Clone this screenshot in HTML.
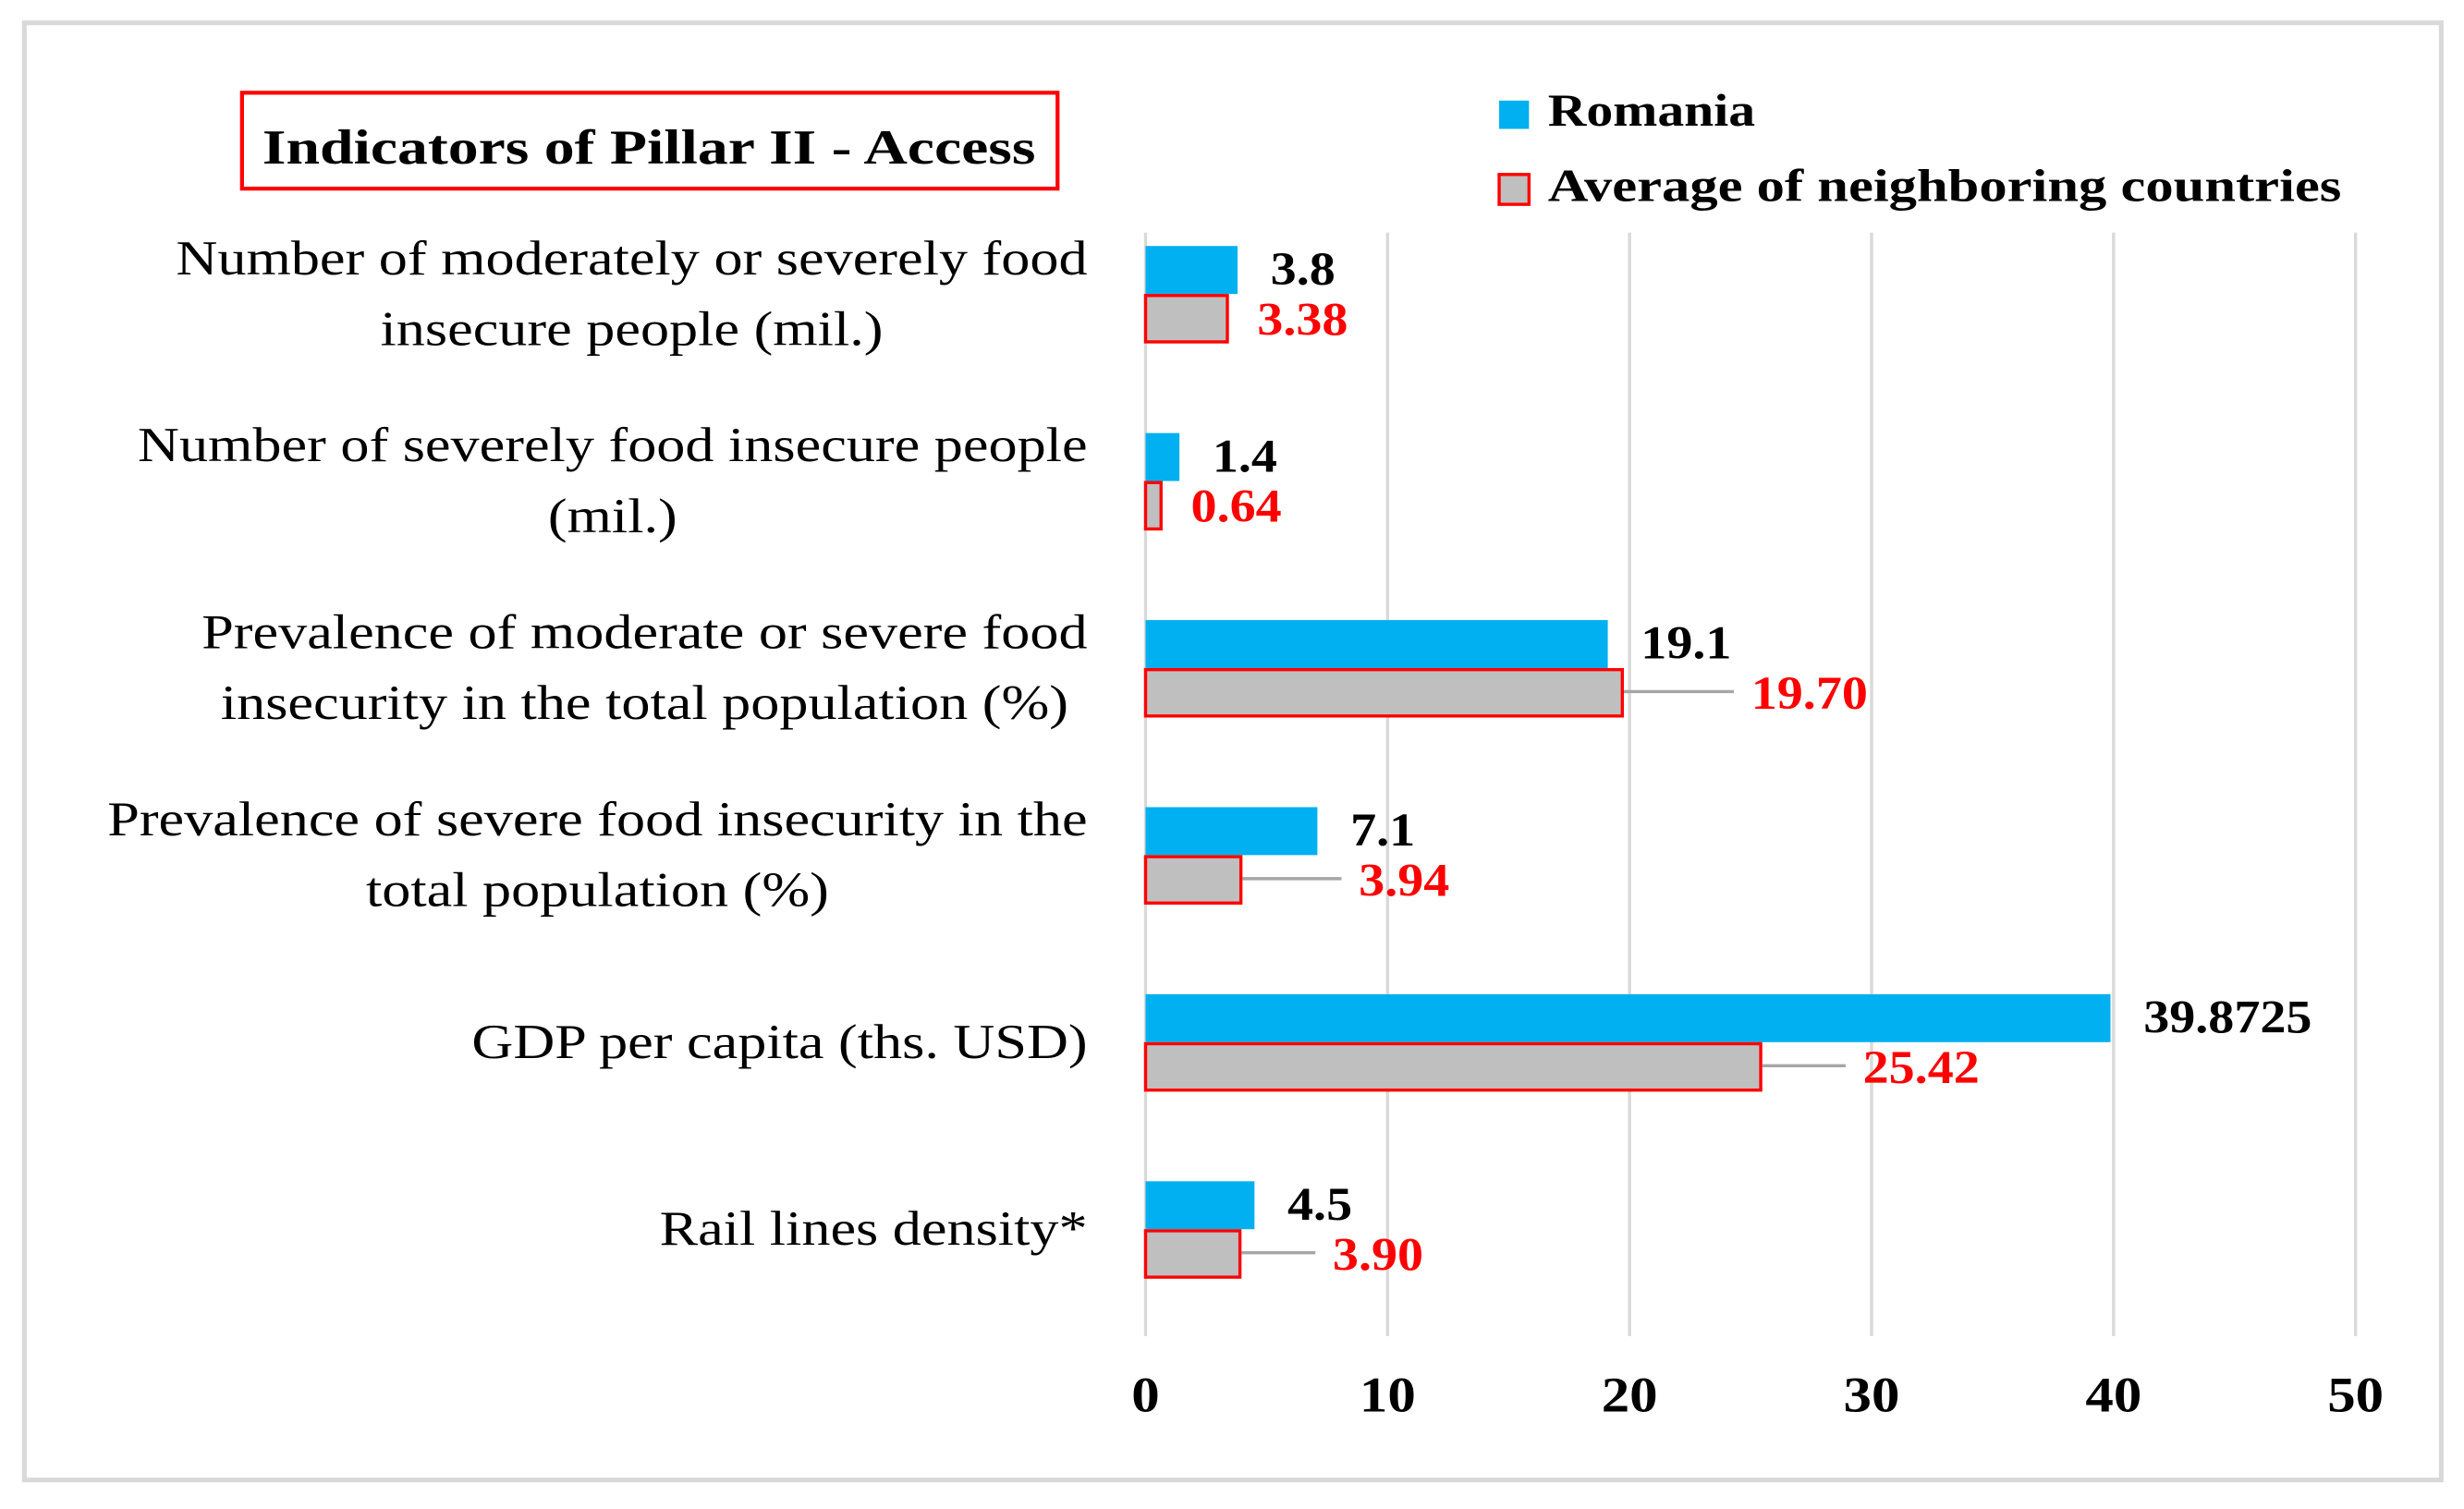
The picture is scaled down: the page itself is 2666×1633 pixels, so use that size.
<!DOCTYPE html>
<html><head><meta charset="utf-8"><style>
html,body{margin:0;padding:0;background:#fff;}
svg{display:block;}
text{font-family:"Liberation Serif",serif;}
</style></head><body>
<svg id="chart" width="2666" height="1633" viewBox="0 0 1568 960" preserveAspectRatio="none" xmlns="http://www.w3.org/2000/svg">
<rect x="15.5" y="14.5" width="1538" height="927" fill="#fff" stroke="#d9d9d9" stroke-width="3"/>
<rect x="154" y="59" width="519" height="61" fill="none" stroke="#ff0000" stroke-width="2.5"/>
<text x="413" y="104" text-anchor="middle" font-size="31" font-weight="bold" textLength="492" lengthAdjust="spacingAndGlyphs">Indicators of Pillar II - Access</text>
<g>
<rect x="954" y="64" width="19" height="18" fill="#00b0f0"/>
<text x="985" y="80" font-size="29" font-weight="bold" textLength="132" lengthAdjust="spacingAndGlyphs">Romania</text>
<rect x="954" y="111" width="19" height="19" fill="#bfbfbf" stroke="#ff0000" stroke-width="2"/>
<text x="985" y="128" font-size="29" font-weight="bold" textLength="505" lengthAdjust="spacingAndGlyphs">Average of neighboring countries</text>
</g>
<g id="grid"></g><g id="bars"></g><g id="labels"></g>
</svg>
<script>
const categories = [
 ["Number of moderately or severely food","insecure people (mil.)"],
 ["Number of severely food insecure people","(mil.)"],
 ["Prevalence of moderate or severe food","insecurity in the total population (%)"],
 ["Prevalence of severe food insecurity in the","total population (%)"],
 ["GDP per capita (ths. USD)"],
 ["Rail lines density*"]
];
const romania = [3.8, 1.4, 19.1, 7.1, 39.8725, 4.5];
const average = [3.38, 0.64, 19.70, 3.94, 25.42, 3.90];
const romaniaText = ["3.8","1.4","19.1","7.1","39.8725","4.5"];
const averageText = ["3.38","0.64","19.70","3.94","25.42","3.90"];
const ticks = [0,10,20,30,40,50];
const leaderLen = [0,0,63,56,46,40];

const NS="http://www.w3.org/2000/svg";
const x0=729, x1=1499, xMax=50;
const x = v => x0 + v/xMax*(x1-x0);
const groupTop=156.5, pitch=119, barH=30.5;
const yc = i => groupTop + i*pitch + barH;
function mk(tag, attrs, parent, txt){
  const e=document.createElementNS(NS,tag);
  for(const k in attrs) e.setAttribute(k,attrs[k]);
  if(txt!==undefined) e.textContent=txt;
  document.getElementById(parent).appendChild(e);
  return e;
}
function stretch(t,k){ const w=t.getComputedTextLength(); t.setAttribute('textLength',w*k); t.setAttribute('lengthAdjust','spacingAndGlyphs'); return w*k; }
ticks.forEach(t=>{
  const g=mk('line',{x1:x(t),x2:x(t),y1:148,y2:850,stroke:'#d9d9d9','stroke-width':2},'grid');
  
  
  const l=mk('text',{x:x(t),y:898,'text-anchor':'middle','font-size':32,'font-weight':'bold'},'labels',String(t));
  
  
  stretch(l,1.12);
});
categories.forEach((lines,i)=>{
  const c=yc(i);
  const off = lines.length===2 ? [-22.5,22.5] : [0];
  const els=lines.map((ln,j)=>{
    const t=mk('text',{x:0,y:c+off[j]+10,'text-anchor':'middle','font-size':31},'labels',ln);
    
    
    return t;
  });
  const ws=els.map(t=>stretch(t,1.18));
  const cx=692-Math.max(...ws)/2;
  els.forEach(t=>t.setAttribute('x',cx));
  const b=mk('rect',{x:x(0),y:c-barH,width:x(romania[i])-x(0),height:barH,fill:'#00b0f0'},'bars');
  
  
  const a=mk('rect',{x:x(0),y:c+1,width:x(average[i])-x(0),height:barH-1,fill:'#bfbfbf',stroke:'#ff0000','stroke-width':2},'bars');
  
  
  const rl=mk('text',{x:x(romania[i])+21,y:c-6,'font-size':30,'font-weight':'bold',fill:'#000'},'labels',romaniaText[i]);
  
  
  stretch(rl,1.1);
  const ex=x(average[i])+19+leaderLen[i];
  if(leaderLen[i]>0){
    const ld=mk('line',{x1:x(average[i])+1,x2:ex-11,y1:c+15,y2:c+15,stroke:'#a6a6a6','stroke-width':2},'labels');
    
    
  }
  const al=mk('text',{x:ex,y:c+26,'font-size':30,'font-weight':'bold',fill:'#ff0000'},'labels',averageText[i]);
  
  
  stretch(al,1.1);
});
</script>
</body></html>
